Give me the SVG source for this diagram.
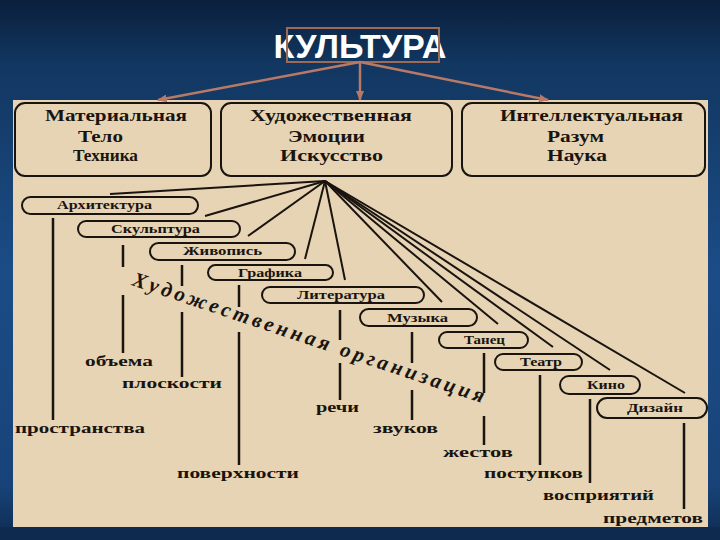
<svg xmlns="http://www.w3.org/2000/svg" width="720" height="540" viewBox="0 0 720 540">
<defs>
<linearGradient id="bg" x1="0" y1="0" x2="0" y2="1">
<stop offset="0" stop-color="#0a1f3c"/>
<stop offset="0.12" stop-color="#123761"/>
<stop offset="0.5" stop-color="#1b4c86"/>
<stop offset="0.9" stop-color="#184378"/>
<stop offset="1" stop-color="#0e2a50"/>
</linearGradient>
<marker id="ah" markerWidth="10" markerHeight="8" refX="9" refY="4" orient="auto" markerUnits="userSpaceOnUse">
<path d="M0,0 L10,4 L0,8 Z" fill="#b87a66"/>
</marker>
<style>
.box{fill:#e6d4b4;stroke:#1a1410;stroke-width:2}
.pill{fill:#e6d4b4;stroke:#1a1410;stroke-width:2}
.bt{font-family:"Liberation Serif","DejaVu Serif",serif;font-weight:bold;font-size:16px;fill:#1a1410}
.pt{font-family:"Liberation Serif","DejaVu Serif",serif;font-weight:bold;font-size:12.5px;fill:#1a1410}
.lt{font-family:"Liberation Serif","DejaVu Serif",serif;font-weight:bold;font-size:15px;fill:#1a1410}
.fan line{stroke:#1a1410;stroke-width:2}
.vl line{stroke:#1a1410;stroke-width:2.5}
.arr{stroke:#b87a66;stroke-width:2.5;fill:none}
</style>
</defs>
<rect x="0" y="0" width="720" height="540" fill="url(#bg)"/>
<rect x="0" y="527" width="720" height="13" fill="#0e2a4f"/>
<rect x="13" y="100" width="695" height="427" fill="#e6d4b4"/>

<g id="title">
<text x="360" y="58" text-anchor="middle" font-family="Liberation Sans, Arial, sans-serif" font-weight="bold" font-size="33" fill="#ffffff" textLength="173" lengthAdjust="spacingAndGlyphs">КУЛЬТУРА</text>
<rect x="287" y="28" width="152" height="34" fill="none" stroke="#9c6b55" stroke-width="2"/>
</g>

<g id="arrows">
<line class="arr" x1="360" y1="62" x2="158" y2="100" marker-end="url(#ah)"/>
<line class="arr" x1="360" y1="62" x2="360" y2="100" marker-end="url(#ah)"/>
<line class="arr" x1="360" y1="62" x2="548" y2="100" marker-end="url(#ah)"/>
</g>

<g id="material">
<rect class="box" x="15" y="103" width="196" height="73" rx="10"/>
<text class="bt" x="45" y="121" textLength="142" lengthAdjust="spacingAndGlyphs">Материальная</text>
<text class="bt" x="78" y="142" textLength="45" lengthAdjust="spacingAndGlyphs">Тело</text>
<text class="bt" x="73" y="161" textLength="65" lengthAdjust="spacingAndGlyphs">Техника</text>
</g>
<g id="art">
<rect class="box" x="221" y="103" width="231" height="73" rx="10"/>
<text class="bt" x="250" y="121" textLength="162" lengthAdjust="spacingAndGlyphs">Художественная</text>
<text class="bt" x="288" y="142" textLength="77" lengthAdjust="spacingAndGlyphs">Эмоции</text>
<text class="bt" x="280" y="161" textLength="103" lengthAdjust="spacingAndGlyphs">Искусство</text>
</g>
<g id="intellect">
<rect class="box" x="462" y="103" width="243" height="73" rx="10"/>
<text class="bt" x="500" y="121" textLength="183" lengthAdjust="spacingAndGlyphs">Интеллектуальная</text>
<text class="bt" x="547" y="142" textLength="57" lengthAdjust="spacingAndGlyphs">Разум</text>
<text class="bt" x="547" y="161" textLength="60" lengthAdjust="spacingAndGlyphs">Наука</text>
</g>

<g id="connectors">
<g class="fan">
<line x1="325" y1="181" x2="110" y2="194"/>
<line x1="325" y1="181" x2="205" y2="216"/>
<line x1="325" y1="181" x2="248" y2="236"/>
<line x1="325" y1="181" x2="305" y2="259"/>
<line x1="325" y1="181" x2="345" y2="280"/>
<line x1="325" y1="181" x2="442" y2="302"/>
<line x1="325" y1="181" x2="498" y2="324"/>
<line x1="325" y1="181" x2="553" y2="347"/>
<line x1="325" y1="181" x2="610" y2="370"/>
<line x1="325" y1="181" x2="685" y2="393"/>
</g>
<g class="vl">
<line x1="53" y1="218" x2="53" y2="420"/>
<line x1="123" y1="245" x2="123" y2="267"/>
<line x1="123" y1="295" x2="123" y2="353"/>
<line x1="182" y1="265" x2="182" y2="286"/>
<line x1="182" y1="312" x2="182" y2="377"/>
<line x1="239" y1="285" x2="239" y2="307"/>
<line x1="239" y1="332" x2="239" y2="465"/>
<line x1="340" y1="310" x2="340" y2="340"/>
<line x1="340" y1="363" x2="340" y2="400"/>
<line x1="412" y1="332" x2="412" y2="363"/>
<line x1="412" y1="390" x2="412" y2="420"/>
<line x1="484" y1="353" x2="484" y2="393"/>
<line x1="484" y1="416" x2="484" y2="445"/>
<line x1="540" y1="375" x2="540" y2="465"/>
<line x1="590" y1="399" x2="590" y2="483"/>
<line x1="684" y1="423" x2="684" y2="509"/>
</g>
</g>

<g id="arch"><rect class="pill" x="22" y="197" width="176" height="17" rx="8.5"/><text class="pt" x="57" y="209" textLength="95" lengthAdjust="spacingAndGlyphs">Архитектура</text></g>
<g id="sculpt"><rect class="pill" x="78" y="221" width="162" height="16" rx="8"/><text class="pt" x="111" y="233" textLength="89" lengthAdjust="spacingAndGlyphs">Скульптура</text></g>
<g id="paint"><rect class="pill" x="150" y="243" width="145" height="17" rx="8.5"/><text class="pt" x="183" y="255" textLength="79" lengthAdjust="spacingAndGlyphs">Живопись</text></g>
<g id="graph"><rect class="pill" x="208" y="265" width="125" height="15" rx="7.5"/><text class="pt" x="238" y="277" textLength="64" lengthAdjust="spacingAndGlyphs">Графика</text></g>
<g id="lit"><rect class="pill" x="262" y="287" width="162" height="16" rx="8"/><text class="pt" x="297" y="299" textLength="88" lengthAdjust="spacingAndGlyphs">Литература</text></g>
<g id="music"><rect class="pill" x="360" y="309" width="117" height="17" rx="8.5"/><text class="pt" x="387" y="322" textLength="61" lengthAdjust="spacingAndGlyphs">Музыка</text></g>
<g id="dance"><rect class="pill" x="439" y="332" width="89" height="16" rx="8"/><text class="pt" x="464" y="344" textLength="41" lengthAdjust="spacingAndGlyphs">Танец</text></g>
<g id="theatre"><rect class="pill" x="495" y="354" width="87" height="16" rx="8"/><text class="pt" x="520" y="366" textLength="42" lengthAdjust="spacingAndGlyphs">Театр</text></g>
<g id="cinema"><rect class="pill" x="560" y="376" width="80" height="18" rx="9"/><text class="pt" x="587" y="389" textLength="38" lengthAdjust="spacingAndGlyphs">Кино</text></g>
<g id="design"><rect class="pill" x="597" y="398" width="110" height="20" rx="10"/><text class="pt" x="627" y="412" textLength="56" lengthAdjust="spacingAndGlyphs">Дизайн</text></g>

<g id="labels">
<text class="lt" x="15" y="433" textLength="130" lengthAdjust="spacingAndGlyphs">пространства</text>
<text class="lt" x="85" y="366" textLength="68" lengthAdjust="spacingAndGlyphs">объема</text>
<text class="lt" x="122" y="388" textLength="100" lengthAdjust="spacingAndGlyphs">плоскости</text>
<text class="lt" x="177" y="478" textLength="122" lengthAdjust="spacingAndGlyphs">поверхности</text>
<text class="lt" x="316" y="412" textLength="43" lengthAdjust="spacingAndGlyphs">речи</text>
<text class="lt" x="373" y="433" textLength="65" lengthAdjust="spacingAndGlyphs">звуков</text>
<text class="lt" x="443" y="457" textLength="70" lengthAdjust="spacingAndGlyphs">жестов</text>
<text class="lt" x="484" y="478" textLength="99" lengthAdjust="spacingAndGlyphs">поступков</text>
<text class="lt" x="543" y="500" textLength="111" lengthAdjust="spacingAndGlyphs">восприятий</text>
<text class="lt" x="603" y="523" textLength="100" lengthAdjust="spacingAndGlyphs">предметов</text>
</g>

<g id="rotated">
<text transform="translate(131,285) rotate(18.6)" font-family="Liberation Serif, DejaVu Serif, serif" font-weight="bold" font-style="italic" font-size="21" fill="#1a1410" textLength="370" lengthAdjust="spacing">Художественная организация</text>
</g>
</svg>
